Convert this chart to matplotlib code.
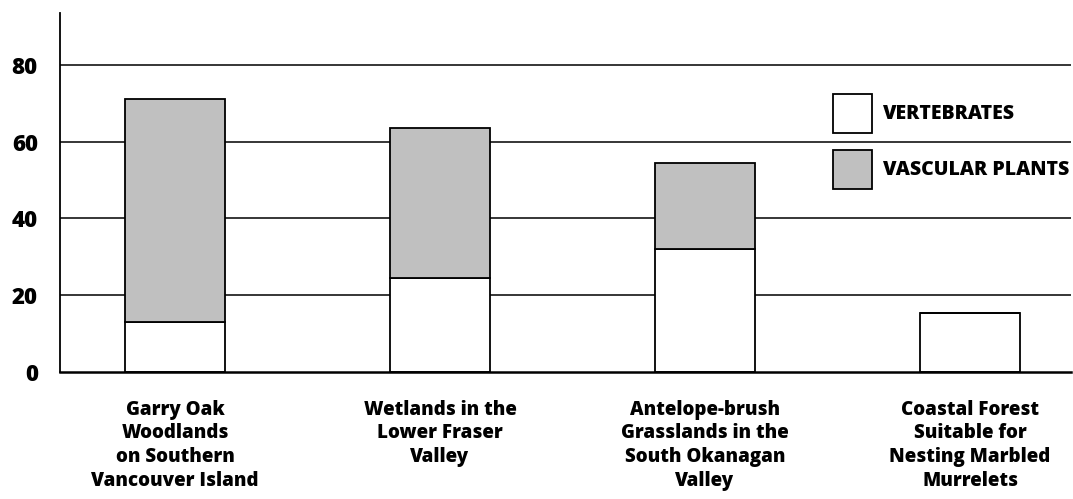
import matplotlib
matplotlib.use("Agg")
import matplotlib.pyplot as plt
from matplotlib.patches import Patch

plt.rcParams['font.family'] = ['Open Sans', 'DejaVu Sans']
plt.rcParams['font.weight'] = 800

habitats = ["Garry Oak\nWoodlands\non Southern\nVancouver Island",
            "Wetlands in the\nLower Fraser\nValley",
            "Antelope-brush\nGrasslands in the\nSouth Okanagan\nValley",
            "Coastal Forest\nSuitable for\nNesting Marbled\nMurrelets"]
vertebrates = [13, 24.5, 32, 15.3]
vascular_plants = [58, 39, 22.5, 0]
yticks = [0, 20, 40, 60, 80]

fig = plt.figure(figsize=(10.73, 4.99), dpi=100)
ax = fig.add_axes([60 / 1073, 127 / 499, 1011 / 1073, 359 / 499])

x = list(range(len(habitats)))
w = 0.377
ax.bar(x, vertebrates, w, color='white', edgecolor='black', linewidth=1.3, zorder=3)
ax.bar(x, vascular_plants, w, bottom=vertebrates, color='#c0c0c0',
       edgecolor='black', linewidth=1.3, zorder=3)

ax.set_xlim(-0.434, 3.381)
ax.set_ylim(0, 93.5)
ax.set_yticks(yticks)
ax.set_yticklabels([str(v) for v in yticks], fontsize=16, fontweight=800)
ax.set_xticks(x)
ax.set_xticklabels(habitats, fontsize=13.5, fontweight=800, linespacing=1.24)
ax.tick_params(axis='y', length=0, pad=16)
ax.tick_params(axis='x', length=0, pad=20)

for v in yticks[1:]:
    ax.axhline(v, color='black', linewidth=1.1, zorder=1)

for s in ['top', 'right']:
    ax.spines[s].set_visible(False)
ax.spines['left'].set_linewidth(1.3)
ax.spines['bottom'].set_linewidth(1.8)
ax.spines['bottom'].set_zorder(4)

# legend boxes ~39px square, as in the original
handles = [Patch(facecolor='white', edgecolor='black', linewidth=1.3),
           Patch(facecolor='#c0c0c0', edgecolor='black', linewidth=1.3)]
leg = ax.legend(handles, ['VERTEBRATES', 'VASCULAR PLANTS'],
                loc='upper left', bbox_to_anchor=(833 / 1073, 1 - 94 / 499),
                bbox_transform=fig.transFigure, frameon=False, borderpad=0,
                borderaxespad=0, handlelength=2.0, handleheight=2.71,
                handletextpad=0.57, labelspacing=0.87,
                prop={'size': 14, 'weight': 800})

fig.savefig("out.png", dpi=100)
